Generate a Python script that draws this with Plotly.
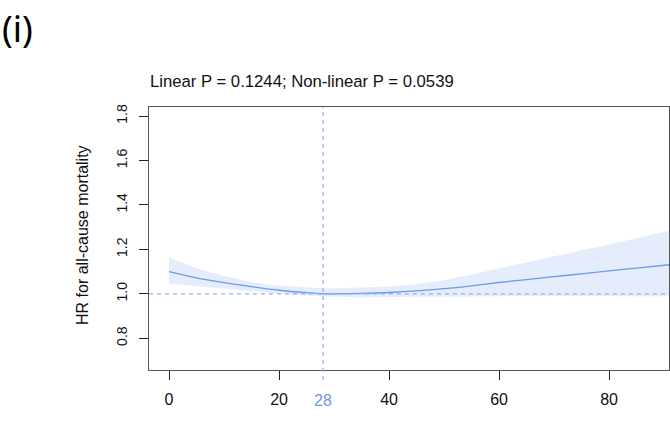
import plotly.graph_objects as go

# Data
x_vals = [0, 5, 10, 15, 20, 25, 28, 30, 35, 40, 45, 50, 55, 60, 65, 70, 75, 80, 85, 91]
hr = [1.100, 1.072, 1.050, 1.032, 1.016, 1.005, 1.000, 1.000, 1.002, 1.006, 1.013, 1.023, 1.036, 1.051, 1.064, 1.077, 1.090, 1.103, 1.116, 1.131]
upper = [1.164, 1.115, 1.080, 1.053, 1.036, 1.027, 1.025, 1.025, 1.028, 1.033, 1.044, 1.061, 1.087, 1.115, 1.142, 1.169, 1.196, 1.222, 1.250, 1.284]
lower = [1.046, 1.034, 1.024, 1.013, 1.001, 0.992, 0.989, 0.987, 0.984, 0.983, 0.984, 0.985, 0.986, 0.988, 0.989, 0.990, 0.990, 0.990, 0.989, 0.988]
x_ticks = [0, 20, 40, 60, 80]
y_ticks = [0.8, 1.0, 1.2, 1.4, 1.6, 1.8]
ref_x = 28
ref_hr = 1.0
subtitle = "Linear P = 0.1244; Non-linear P = 0.0539"
panel = "(i)"
y_title = "HR for all-cause mortality"

line_col = "#6f98e8"
dash_col = "#8fb1f1"
band_col = "rgba(100,149,237,0.17)"
frame_col = "#555555"

fig = go.Figure()
fig.add_trace(go.Scatter(x=x_vals + x_vals[::-1], y=upper + lower[::-1], fill="toself",
                         fillcolor=band_col, line=dict(width=0), mode="lines",
                         hoverinfo="skip", showlegend=False))
fig.add_trace(go.Scatter(x=x_vals, y=hr, mode="lines", line=dict(color=line_col, width=1.3, shape="spline"),
                         showlegend=False))

fig.add_shape(type="line", xref="paper", yref="y", x0=0, x1=1, y0=ref_hr, y1=ref_hr,
              line=dict(color=dash_col, width=1.3, dash="4px,4px"))
fig.add_shape(type="line", xref="x", yref="paper", x0=ref_x, x1=ref_x, y0=-0.038, y1=1,
              line=dict(color=dash_col, width=1.3, dash="4px,4px"))

fig.add_annotation(x=ref_x, xref="x", y=-0.115, yref="paper", text=str(ref_x), showarrow=False,
                   font=dict(family="Liberation Sans, Arial", size=16, color=line_col),
                   xanchor="center", yanchor="middle")
fig.add_annotation(x=-0.002, xref="paper", y=1.098, yref="paper", text=subtitle, showarrow=False,
                   font=dict(family="Liberation Sans, Arial", size=16.7, color="#111111"),
                   xanchor="left", yanchor="middle")
fig.add_annotation(x=-0.2865, xref="paper", y=1.30, yref="paper", text=panel, showarrow=False,
                   font=dict(family="Noto Sans", size=36, color="#000000"),
                   xanchor="left", yanchor="middle")
fig.add_annotation(x=-0.128, xref="paper", y=0.515, yref="paper", text=y_title, showarrow=False,
                   textangle=-90, font=dict(family="Liberation Sans, Arial", size=16, color="#111111"),
                   xanchor="center", yanchor="middle")

fig.update_xaxes(range=[-3.64, 90.9], tickvals=x_ticks, ticks="outside", ticklen=9, tickcolor="#222",
                 showline=True, linecolor=frame_col, mirror=True, showgrid=False, zeroline=False,
                 tickfont=dict(family="Liberation Sans, Arial", size=16, color="#111"),
                 ticklabelstandoff=6)
fig.update_yaxes(range=[0.657, 1.841], tickvals=y_ticks, ticktext=[f"{v:.1f}" for v in y_ticks],
                 ticks="outside", ticklen=9, tickcolor="#222", tickangle=-90,
                 showline=True, linecolor=frame_col, mirror=True, showgrid=False, zeroline=False,
                 tickfont=dict(family="Liberation Sans, Arial", size=14, color="#111"),
                 ticklabelstandoff=6)

fig.update_layout(width=670, height=427, margin=dict(l=149, r=1, t=107, b=57),
                  plot_bgcolor="white", paper_bgcolor="white", showlegend=False)

fig.write_html("out.html")
